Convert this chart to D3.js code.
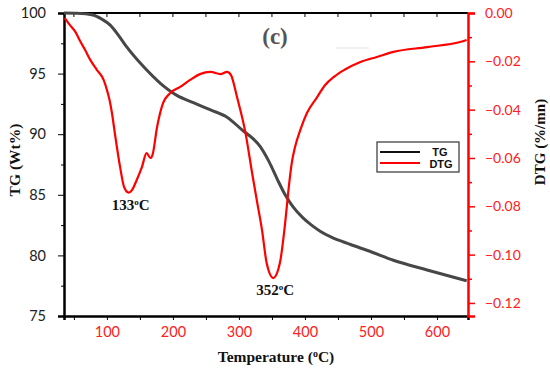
<!DOCTYPE html>
<html>
<head>
<meta charset="utf-8">
<script src="https://cdn.jsdelivr.net/npm/d3@7"></script>
<style>
  body { margin: 0; background: #fff; }
  svg { display: block; }
</style>
</head>
<body>
<div id="chart"></div>
<script>
// TG curve (weight %) vs temperature
var tgTemp = [35, 55, 79, 92, 105, 117, 130, 155, 181, 206, 231, 257, 282, 306, 320, 332, 345, 358, 370, 382, 397, 410, 423, 440, 469, 500, 534, 585, 645];
var tgVal  = [100, 99.98, 99.83, 99.5, 99.0, 98.2, 97.2, 95.6, 94.2, 93.2, 92.6, 92.0, 91.4, 90.3, 89.7, 89.0, 87.8, 86.3, 85.0, 84.0, 83.1, 82.5, 82.0, 81.5, 80.9, 80.3, 79.6, 78.8, 77.9];

// DTG curve (%/min) vs temperature
var dtgTemp = [36, 44, 52, 60, 67, 75, 85, 95, 100, 104, 108, 112, 120, 126, 133, 138, 145, 153, 160, 166, 169, 176, 185, 196, 211, 226, 241, 257, 272, 282, 288, 297, 310, 320, 327, 335, 342, 352, 362, 370, 375, 380, 385, 393, 403, 418, 430, 445, 460, 484, 509, 534, 585, 635, 645];
var dtgVal  = [-0.0020, -0.0050, -0.0077, -0.0119, -0.0153, -0.0195, -0.0236, -0.0277, -0.0318, -0.0360, -0.0420, -0.0497, -0.0638, -0.0720, -0.0743, -0.0733, -0.0692, -0.0638, -0.0580, -0.0600, -0.0588, -0.0472, -0.0373, -0.0331, -0.0306, -0.0277, -0.0253, -0.0244, -0.0253, -0.0244, -0.0257, -0.0347, -0.0497, -0.0663, -0.0774, -0.0899, -0.1035, -0.1097, -0.1035, -0.0870, -0.0733, -0.0621, -0.0555, -0.0484, -0.0414, -0.0350, -0.0300, -0.0262, -0.0235, -0.0203, -0.0182, -0.0161, -0.0141, -0.0120, -0.0112];

var xTicks = [100, 200, 300, 400, 500, 600];
var tgTicks = [75, 80, 85, 90, 95, 100];
var dtgTicks = [0, -0.02, -0.04, -0.06, -0.08, -0.10, -0.12];

var peaks = [{t: 133, v: -0.0743, label: "133"}, {t: 352, v: -0.1097, label: "352"}];

var width = 550, height = 370;
var margin = {top: 13, right: 82, bottom: 54, left: 64};
var w = width - margin.left - margin.right;
var h = height - margin.top - margin.bottom;

var svg = d3.select("#chart").append("svg")
    .attr("width", width)
    .attr("height", height);
var g = svg.append("g")
    .attr("transform", "translate(" + margin.left + "," + margin.top + ")");

var x = d3.scaleLinear().domain([35, 647]).range([0, w]);
var yL = d3.scaleLinear().domain([75, 100]).range([h, 0]);
var yR = d3.scaleLinear().domain([-0.1254, 0]).range([h, 0]);

// faint stray line from the original figure
g.append("line")
    .attr("x1", 272).attr("x2", 305).attr("y1", 35).attr("y2", 35)
    .attr("stroke", "#e2e2e2").attr("stroke-width", 1);

// top frame with inward ticks
g.append("line").attr("x1", 0).attr("x2", w).attr("y1", 0).attr("y2", 0)
    .attr("stroke", "#000").attr("stroke-width", 2);
g.append("g")
    .selectAll("line")
    .data(d3.range(50, 647, 50))
    .enter().append("line")
    .attr("x1", function(d) { return x(d); })
    .attr("x2", function(d) { return x(d); })
    .attr("y1", 0).attr("y2", 4)
    .attr("stroke", "#000").attr("stroke-width", 1);

// bottom axis (red labels)
var xAxis = g.append("g")
    .attr("transform", "translate(0," + h + ")")
    .call(d3.axisBottom(x).tickValues(d3.range(50, 647, 50)).tickSize(4)
        .tickFormat(function(d) { return xTicks.indexOf(d) >= 0 ? d : ""; }));
xAxis.select(".domain").attr("stroke", "#000").attr("stroke-width", 2.5);
xAxis.selectAll(".tick line").attr("stroke", "#000");
xAxis.selectAll(".tick text")
    .attr("fill", "#ff2020")
    .attr("y", 11)
    .attr("dy", "0.71em")
    .style("font-family", "Lato, 'Liberation Sans', sans-serif")
    .style("font-size", "14.5px");

// left axis
var leftAxis = g.append("g")
    .call(d3.axisLeft(yL).tickValues(d3.range(75, 100.1, 2.5)).tickSize(6).tickPadding(12)
        .tickFormat(function(d) { return tgTicks.indexOf(d) >= 0 ? d : ""; }));
leftAxis.select(".domain").attr("stroke", "#000").attr("stroke-width", 2.5);
leftAxis.selectAll(".tick line")
    .attr("stroke", "#000")
    .attr("x2", function(d) { return tgTicks.indexOf(d) >= 0 ? -6 : -3; });
leftAxis.selectAll(".tick text")
    .attr("fill", "#222")
    .style("font-family", "Lato, 'Liberation Sans', sans-serif")
    .style("font-size", "14.5px");

// right axis (red)
var rightAxis = g.append("g")
    .attr("transform", "translate(" + w + ",0)")
    .call(d3.axisRight(yR).tickValues(d3.range(0, -0.125, -0.01)).tickSize(7).tickPadding(10)
        .tickFormat(function(d) {
            var m = dtgTicks.some(function(t) { return Math.abs(t - d) < 1e-6; });
            return m ? d3.format(".2f")(d) : "";
        }));
rightAxis.select(".domain").attr("stroke", "#ff0000").attr("stroke-width", 2.5);
rightAxis.selectAll(".tick line")
    .attr("stroke", "#ff0000").attr("stroke-width", 1.5)
    .attr("x2", function(d, i) { return i % 2 === 0 ? 7 : 4; });
rightAxis.selectAll(".tick text")
    .attr("fill", "#ff2020")
    .style("font-family", "Lato, 'Liberation Sans', sans-serif")
    .style("font-size", "14px");

// curves
var tgData = tgTemp.map(function(t, i) { return {t: t, v: tgVal[i]}; });
var dtgData = dtgTemp.map(function(t, i) { return {t: t, v: dtgVal[i]}; });

g.append("path")
    .datum(tgData)
    .attr("fill", "none")
    .attr("stroke", "#474747")
    .attr("stroke-width", 3)
    .attr("d", d3.line()
        .x(function(d) { return x(d.t); })
        .y(function(d) { return yL(d.v); })
        .curve(d3.curveMonotoneX));

g.append("path")
    .datum(dtgData)
    .attr("fill", "none")
    .attr("stroke", "#ff0000")
    .attr("stroke-width", 2.2)
    .attr("d", d3.line()
        .x(function(d) { return x(d.t); })
        .y(function(d) { return yR(d.v); })
        .curve(d3.curveMonotoneX));

// peak labels
var pl = g.selectAll(".peak")
    .data(peaks)
    .enter().append("text")
    .attr("class", "peak")
    .attr("x", function(d) { return x(d.t) + 2; })
    .attr("y", function(d) { return yR(d.v) + 17; })
    .attr("text-anchor", "middle")
    .style("font-family", "'Liberation Serif', 'DejaVu Serif', serif")
    .style("font-weight", "bold")
    .style("font-size", "15px")
    .attr("fill", "#111");
pl.append("tspan").text(function(d) { return d.label; });
pl.append("tspan").attr("dy", -5).style("font-size", "9px").text("o");
pl.append("tspan").attr("dy", 5).text("C");

// title
g.append("text")
    .attr("x", 211).attr("y", 31)
    .attr("text-anchor", "middle")
    .style("font-family", "'Liberation Serif', serif")
    .style("font-weight", "bold")
    .style("font-size", "23px")
    .attr("fill", "#555")
    .text("(c)");

// legend
var lg = g.append("g").attr("transform", "translate(313,129)");
lg.append("rect").attr("width", 82).attr("height", 30)
    .attr("fill", "#fff").attr("stroke", "#333").attr("stroke-width", 1.2);
lg.append("line").attr("x1", 3).attr("x2", 43).attr("y1", 10).attr("y2", 10)
    .attr("stroke", "#111").attr("stroke-width", 2);
lg.append("line").attr("x1", 3).attr("x2", 43).attr("y1", 21).attr("y2", 21)
    .attr("stroke", "#ff0000").attr("stroke-width", 2);
lg.append("text").attr("x", 63).attr("y", 14).attr("text-anchor", "middle")
    .style("font-family", "'Liberation Sans', Arial, sans-serif")
    .style("font-weight", "bold").style("font-size", "11px").attr("fill", "#111")
    .text("TG");
lg.append("text").attr("x", 64).attr("y", 26).attr("text-anchor", "middle")
    .style("font-family", "'Liberation Sans', Arial, sans-serif")
    .style("font-weight", "bold").style("font-size", "11px").attr("fill", "#111")
    .text("DTG");

// axis titles
var titleFont = "'Liberation Serif', 'DejaVu Serif', serif";
var xt = svg.append("text")
    .attr("x", 276).attr("y", 362)
    .attr("text-anchor", "middle")
    .style("font-family", titleFont).style("font-weight", "bold").style("font-size", "15.5px")
    .attr("fill", "#111");
xt.append("tspan").text("Temperature (");
xt.append("tspan").attr("dy", -5).style("font-size", "10px").text("o");
xt.append("tspan").attr("dy", 5).text("C)");

svg.append("text")
    .attr("transform", "translate(20,160) rotate(-90)")
    .attr("text-anchor", "middle")
    .style("font-family", titleFont).style("font-weight", "bold").style("font-size", "15.5px")
    .attr("fill", "#111")
    .text("TG (Wt%)");

svg.append("text")
    .attr("transform", "translate(545,142) rotate(-90)")
    .attr("text-anchor", "middle")
    .style("font-family", titleFont).style("font-weight", "bold").style("font-size", "15px")
    .attr("fill", "#111")
    .text("DTG (%/mn)");
</script>
</body>
</html>
